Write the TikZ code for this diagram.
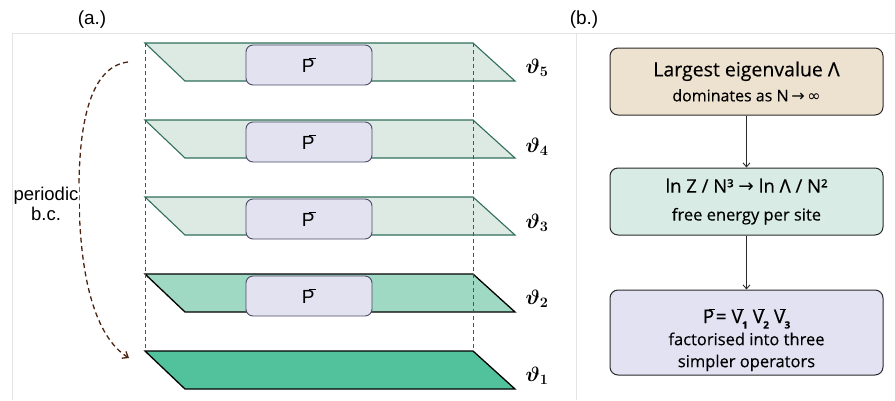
\documentclass[tikz,border=0pt]{standalone}
\usepackage{fontspec}
\setmainfont{Open Sans}[FakeBold=0.3]
\newfontfamily\labfont{Liberation Sans}
\newfontfamily\symfont{DejaVu Sans}
\usetikzlibrary{arrows.meta}
\definecolor{frameC}{HTML}{E4E4E4}
\definecolor{planeLt}{HTML}{DDE9E3}
\definecolor{planeLtB}{HTML}{2F6F5B}
\definecolor{planeMd}{HTML}{9FD9C4}
\definecolor{planeDk}{HTML}{52C29C}
\definecolor{pboxF}{HTML}{E2E2F1}
\definecolor{pboxB}{HTML}{4B4B66}
\definecolor{boxA}{HTML}{EDE1CF}
\definecolor{boxB}{HTML}{D8ECE5}
\definecolor{boxC}{HTML}{E3E2F3}
\definecolor{boxLine}{HTML}{2A2A2A}
\definecolor{bcC}{HTML}{4A2410}
\definecolor{guideC}{HTML}{3E5C52}
\newcommand{\obar}[1]{#1\kern-0.3em\raisebox{0.68em}{\rule{0.36em}{0.075em}}\kern0.02em}
\newcommand{\vsub}[1]{\kern-0.12em\raisebox{-0.28em}{\fontsize{10}{10}\selectfont\bfseries #1}}
\newcommand{\myarr}{{\symfont\char"2192}}
\newcommand{\myinf}{{\symfont\char"221E}}
\begin{document}
\begin{tikzpicture}[x=1pt,y=-1pt,
  lightplane/.style={fill=planeLt,draw=planeLtB,line width=1.1pt,line join=miter},
  midplane/.style={fill=planeMd,draw=black,line width=1.3pt},
  darkplane/.style={fill=planeDk,draw=black,line width=1.3pt},
  pbox/.style={draw=pboxB,fill=pboxF,rounded corners=7pt,line width=0.9pt,minimum width=126pt,minimum height=40pt,inner sep=0pt,font=\labfont\fontsize{19}{22}\selectfont},
  thlab/.style={font=\fontsize{21}{22}\selectfont\boldmath},
  flowbox/.style={draw=boxLine,rounded corners=8pt,line width=1pt,minimum width=273pt,align=center,inner sep=0pt},
  flowtext/.style={align=center,inner sep=0pt},
  flowarr/.style={draw=boxLine,line width=0.9pt,-{Straight Barb[length=4pt,width=7pt]}},
  guide/.style={draw=guideC,line width=0.8pt,dash pattern=on 4pt off 3pt},
  panlab/.style={font=\labfont\fontsize{19}{22}\selectfont}
]
\useasboundingbox (0,0) rectangle (895,400);
% frames
\draw[frameC,line width=1pt] (12,400) -- (12,33) -- (895,33);
\draw[frameC,line width=1pt] (576,33) -- (576,400);
\node[panlab] (la) at (92,20) {(a.)};
\node[panlab] (lb) at (584,20) {(b.)};
% planes
\filldraw[lightplane] (145,43) -- (473,43) -- (515,81) -- (185,81) -- cycle;
\filldraw[lightplane] (145,120) -- (473,120) -- (515,158) -- (185,158) -- cycle;
\filldraw[lightplane] (145,197) -- (473,197) -- (515,235) -- (185,235) -- cycle;
\filldraw[midplane] (145,274) -- (473,274) -- (515,312) -- (185,312) -- cycle;
\filldraw[darkplane] (145,351) -- (473,351) -- (515,389) -- (185,389) -- cycle;
% guides
\coordinate (gTL) at (145,43);
\coordinate (gBL) at (145,351);
\coordinate (gTR) at (473,43);
\coordinate (gBR) at (473,351);
\draw[guide] (gTL) -- (gBL);
\draw[guide] (gTR) -- (gBR);
% P boxes
\node[pbox] (p5) at (309,65) {\obar{P}};
\node[pbox] (p4) at (309,142) {\obar{P}};
\node[pbox] (p3) at (309,219) {\obar{P}};
\node[pbox] (p2) at (309,296) {\obar{P}};
% theta labels
\node[thlab] (t5) at (537,68) {$\vartheta_5$};
\node[thlab] (t4) at (537,147) {$\vartheta_4$};
\node[thlab] (t3) at (537,223) {$\vartheta_3$};
\node[thlab] (t2) at (537,299) {$\vartheta_2$};
\node[thlab] (t1) at (537,376) {$\vartheta_1$};
% periodic b.c.
\coordinate (bcS) at (128,62);
\coordinate (bcE) at (129,358);
\draw[bcC,line width=1.3pt,dash pattern=on 5pt off 3.5pt,-{Straight Barb[length=5pt,width=8pt]}]
  (bcS) .. controls (95,66) and (79,110) .. (79,190)
  .. controls (79,290) and (100,340) .. (bcE);
\node[fill=white,align=center,inner sep=1pt,font=\labfont\fontsize{18.5}{20}\selectfont] (pbc) at (46,204) {periodic\\b.c.};
% panel b
\node[flowbox,fill=boxA,minimum height=67pt,font=\fontsize{16}{25}\selectfont] (b1) at (746.5,81.5)
  {{\fontsize{19.5}{22}\selectfont Largest eigenvalue Λ}\\
   dominates as N\,\myarr\,\myinf};
\node[flowbox,fill=boxB,minimum height=67pt,font=\fontsize{16.5}{28}\selectfont] (b2) at (746.5,201.5)
  {{\fontsize{18.5}{22}\selectfont ln Z / N³ \myarr\ ln Λ / N²}\\
   free energy per site};
\node[flowbox,fill=boxC,minimum height=85pt] (b3) at (746.5,332.5) {};
\node[flowtext,font=\fontsize{16.5}{22}\selectfont] (b3t) at (746.5,340)
  {{\fontsize{19}{22}\selectfont \obar{P} = \obar{V}\vsub{1} \obar{V}\vsub{2} \obar{V}\vsub{3}}\\
   factorised into three\\
   simpler operators};
\draw[flowarr] (b1) -- (b2);
\draw[flowarr] (b2) -- (b3);
\end{tikzpicture}
\end{document}
